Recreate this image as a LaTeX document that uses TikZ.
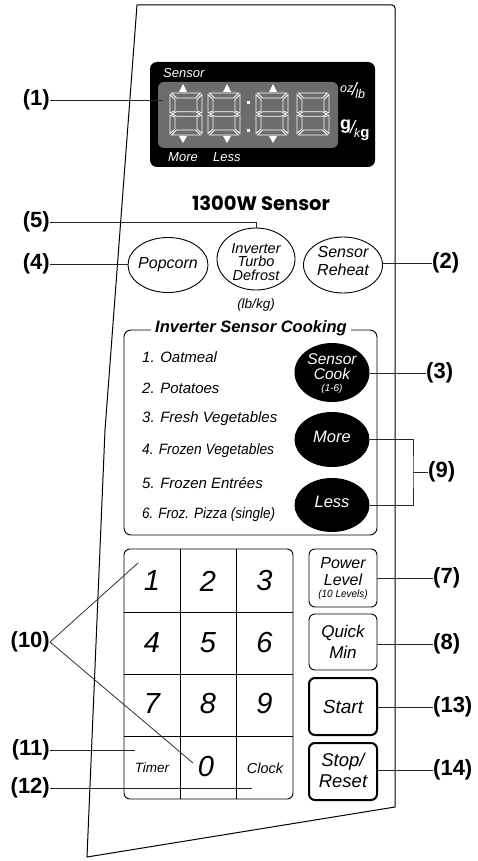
\documentclass[tikz,border=0pt]{standalone}
\usepackage{fontspec}
\usepackage{graphicx}
\setmainfont{Liberation Sans}
\newfontfamily\roundfont{Poppins}
\usetikzlibrary{shapes.geometric}
\definecolor{lcdgray}{HTML}{6C6C6C}
\begin{document}
\begin{tikzpicture}[x=1pt,y=-1pt,
  lbl/.style={font=\bfseries\fontsize{22}{22}\selectfont, inner sep=0pt},
  lead/.style={draw=black!85, line width=0.75pt},
  outl/.style={draw=black, line width=1pt},
  btxt/.style={inner sep=0pt, align=center},
  item/.style={anchor=west, inner sep=0pt, font=\itshape\fontsize{15}{15}\selectfont},
  ovalbtn/.style={ellipse, draw, line width=0.9pt, inner sep=0pt},
  blackoval/.style={ellipse, fill=black, inner sep=0pt, minimum width=75pt},
  keybtn/.style={draw, rounded corners=6pt, line width=0.9pt, minimum width=68pt, minimum height=57pt, inner sep=0pt},
  keybold/.style={keybtn, line width=2pt},
  digit/.style={inner sep=0pt, font=\itshape\fontsize{29}{29}\selectfont},
  seg/.style={draw=white, line width=0.8pt, line join=miter},
  wtxt/.style={inner sep=0pt, text=white, font=\itshape\fontsize{13}{13}\selectfont}
  ]
\useasboundingbox (0,0) rectangle (477,861);

% panel outline
\draw[outl] (87,857) -- (105,430) -- (137,5) -- (392,5) to[bend left=45] (395,8) -- (395,807) -- cycle;

% display
\node[fill=black, rounded corners=7pt, minimum width=225pt, minimum height=105pt, inner sep=0pt] (disp) at (262.5,114.5) {};
\node[fill=lcdgray, rounded corners=6pt, minimum width=180pt, minimum height=66pt, inner sep=0pt] (lcd) at (248,115) {};
\foreach \dx in {170,208,256,297}{
  \begin{scope}[shift={(\dx,93)}]
    \draw[seg] (1.5,0) -- (30.5,0) -- (25.5,5) -- (6.5,5) -- cycle;
    \draw[seg] (0,1.5) -- (5,6.5) -- (5,18) -- (0,19.8) -- cycle;
    \draw[seg] (32,1.5) -- (27,6.5) -- (27,18) -- (32,19.8) -- cycle;
    \draw[seg] (1.8,21) -- (6.5,18.8) -- (25.5,18.8) -- (30.2,21) -- (25.5,23.2) -- (6.5,23.2) -- cycle;
    \draw[seg] (0,22.2) -- (5,24) -- (5,36) -- (0,40.5) -- cycle;
    \draw[seg] (32,22.2) -- (27,24) -- (27,36) -- (32,40.5) -- cycle;
    \draw[seg] (1.5,42) -- (6.5,37) -- (25.5,37) -- (30.5,42) -- cycle;
  \end{scope}
}
\fill[white] (246.5,101.5) rectangle (249.5,104.5);
\fill[white] (246.5,129.5) rectangle (249.5,132.5);
\foreach \tx in {183,227,273}{
  \fill[white] (\tx,84) -- (\tx+4,92) -- (\tx-4,92) -- cycle;
  \fill[white] (\tx,143) -- (\tx+4,136) -- (\tx-4,136) -- cycle;
}
\node[wtxt, anchor=west] (dsens) at (163,73) {Sensor};
\node[wtxt, anchor=west] (dmore) at (168,157) {More};
\node[wtxt, anchor=west] (dless) at (213,157) {Less};
\node[inner sep=0pt, text=white, anchor=west] (ozlb) at (340,91) {\itshape\raisebox{3pt}{\fontsize{12.5}{12}\selectfont oz}\kern-1.5pt{\fontsize{18}{17}\selectfont/}\kern-1.5pt\raisebox{-3pt}{\fontsize{12.5}{12}\selectfont lb}};
\node[inner sep=0pt, text=white, anchor=west] (gkg) at (340,130) {\raisebox{4pt}{\bfseries\fontsize{18}{17}\selectfont g}\kern-1pt{\itshape\fontsize{18}{17}\selectfont/}\kern-1pt\raisebox{-4pt}{\itshape\fontsize{12.5}{12}\selectfont k\bfseries\upshape\fontsize{15}{14}\selectfont g}};

\node[lbl, anchor=east] (l1) at (50,100) {(1)};
\coordinate (p1) at (163,100);
\draw[lead] (l1.east) -- (p1);

% model name
\node[inner sep=0pt, font=\roundfont\bfseries\fontsize{19.5}{19.5}\selectfont] (model) at (261,203) {1300W Sensor};

% oval buttons
\node[ovalbtn, minimum width=80pt, minimum height=55pt] (pop) at (168,265) {};
\node[btxt, font=\itshape\fontsize{16}{16}\selectfont] (popt) at (168,265) {Popcorn};
\node[ovalbtn, minimum width=78pt, minimum height=62pt] (inv) at (256,259) {};
\node[btxt, font=\itshape\fontsize{14.5}{13.5}\selectfont] (invt) at (256,262) {Inverter\\Turbo\\Defrost};
\node[ovalbtn, minimum width=79pt, minimum height=56pt] (reh) at (343,265) {};
\node[btxt, font=\itshape\fontsize{16}{18}\selectfont] (reht) at (343,261) {Sensor\\Reheat};
\node[btxt, font=\itshape\fontsize{13.5}{13.5}\selectfont] (lbkg) at (256,305) {(lb/kg)};

\node[lbl, anchor=east] (l5) at (50,222) {(5)};
\draw[lead] (l5.east) -| (inv.north);
\node[lbl, anchor=east] (l4) at (50,264) {(4)};
\draw[lead] (l4.east) -- (l4.east -| pop.west);
\node[lbl, anchor=west] (l2) at (432,263) {(2)};
\draw[lead] (l2.west) -- (l2.west -| reh.east);

% sensor cooking box
\node[draw, line width=0.9pt, rounded corners=7pt, minimum width=253pt, minimum height=205pt, inner sep=0pt] (cook) at (250.5,432.5) {};
\node[fill=white, inner xsep=4pt, inner ysep=1pt, font=\bfseries\itshape\fontsize{16.5}{16.5}\selectfont] (cookt) at (251,328) {Inverter Sensor Cooking};
\node[item] (i1) at (142,357) {1. Oatmeal};
\node[item] (i2) at (142,388) {2. Potatoes};
\node[item] (i3) at (142,419) {3. Fresh Vegetables};
\node[item] (i4) at (142,451) {\scalebox{0.92}[1]{4. Frozen Vegetables}};
\node[item] (i5) at (142,483) {5. Frozen Entrées};
\node[item] (i6) at (142,515) {\scalebox{0.9}[1]{6. Froz. Pizza (single)}};

\node[blackoval, minimum height=59pt] (scook) at (332,372.5) {};
\node[btxt, text=white, font=\itshape\fontsize{15.5}{15.5}\selectfont] (sct1) at (332,359) {Sensor};
\node[btxt, text=white, font=\itshape\fontsize{15.5}{15.5}\selectfont] (sct2) at (332,374) {Cook};
\node[btxt, text=white, font=\itshape\fontsize{10}{10}\selectfont] (sct3) at (332,389) {(1-6)};
\node[blackoval, minimum height=55pt] (more) at (332,439.5) {};
\node[btxt, text=white, font=\itshape\fontsize{16.5}{16.5}\selectfont] (moret) at (332,437) {More};
\node[blackoval, minimum height=54pt] (less) at (332,505) {};
\node[btxt, text=white, font=\itshape\fontsize{16.5}{16.5}\selectfont] (lesst) at (332,502) {Less};

\node[lbl, anchor=west] (l3) at (426,373) {(3)};
\draw[lead] (l3.west) -- (l3.west -| scook.east);
\node[lbl, anchor=west] (l9) at (428,472) {(9)};
\coordinate (br) at (413,472);
\draw[lead] (more.east) -| (br) |- (less.east);
\draw[lead] (br) -- (l9.west);

% keypad
\node[draw, line width=0.9pt, rounded corners=6pt, minimum width=169pt, minimum height=250pt, inner sep=0pt] (kp) at (208.5,674) {};
\draw[line width=0.9pt] (180,549) -- (180,799) (236,549) -- (236,799)
  (124,612) -- (293,612) (124,674) -- (293,674) (124,736) -- (293,736);
\node[digit] (k1) at (152,581) {1};
\node[digit] (k2) at (208,581) {2};
\node[digit] (k3) at (264.5,581) {3};
\node[digit] (k4) at (152,643) {4};
\node[digit] (k5) at (208,643) {5};
\node[digit] (k6) at (264.5,643) {6};
\node[digit] (k7) at (152,704) {7};
\node[digit] (k8) at (208,704) {8};
\node[digit] (k9) at (264.5,704) {9};
\node[digit] (k0) at (206,767) {0};
\node[btxt, font=\itshape\fontsize{13.5}{13.5}\selectfont] (ktimer) at (152,768) {Timer};
\node[btxt, font=\itshape\fontsize{14.5}{14.5}\selectfont] (kclock) at (265,768) {Clock};

% right buttons
\node[keybtn, minimum height=58pt] (pwr) at (343,578) {};
\node[btxt, font=\itshape\fontsize{16}{16}\selectfont] (pwrt1) at (343,563) {Power};
\node[btxt, font=\itshape\fontsize{16}{16}\selectfont] (pwrt2) at (343,580) {Level};
\node[btxt, font=\itshape\fontsize{10.5}{10.5}\selectfont] (pwrt3) at (343,595) {\scalebox{0.95}[1]{(10 Levels)}};
\node[keybtn, minimum height=56pt] (qmin) at (343,642) {};
\node[btxt, font=\itshape\fontsize{17}{20.5}\selectfont] (qmint) at (343,642) {Quick\\Min};
\node[keybold] (start) at (343,706.5) {};
\node[btxt, font=\itshape\fontsize{19}{19}\selectfont] (startt) at (343,707) {Start};
\node[keybold] (stop) at (343,771.5) {};
\node[btxt, font=\itshape\fontsize{18.5}{20.5}\selectfont] (stopt) at (343,770.5) {Stop/\\Reset};

\node[lbl, anchor=west] (l7) at (433,578) {(7)};
\draw[lead] (l7.west) -- (l7.west -| pwr.east);
\node[lbl, anchor=west] (l8) at (433,644) {(8)};
\draw[lead] (l8.west) -- (l8.west -| qmin.east);
\node[lbl, anchor=west] (l13) at (433,707) {(13)};
\draw[lead] (l13.west) -- (l13.west -| start.east);
\node[lbl, anchor=west] (l14) at (433,770) {(14)};
\draw[lead] (l14.west) -- (l14.west -| stop.east);

\node[lbl, anchor=east] (l10) at (50,642) {(10)};
\coordinate (k1p) at (138,563);
\coordinate (k0p) at (193,763);
\draw[lead] (k1p) -- (l10.east) -- (k0p);
\node[lbl, anchor=east] (l11) at (50,750) {(11)};
\coordinate (tmp) at (135,750);
\draw[lead] (l11.east) -- (tmp);
\node[lbl, anchor=east] (l12) at (50,788) {(12)};
\coordinate (clk) at (252,788);
\draw[lead] (l12.east) -- (clk);
\end{tikzpicture}
\end{document}
